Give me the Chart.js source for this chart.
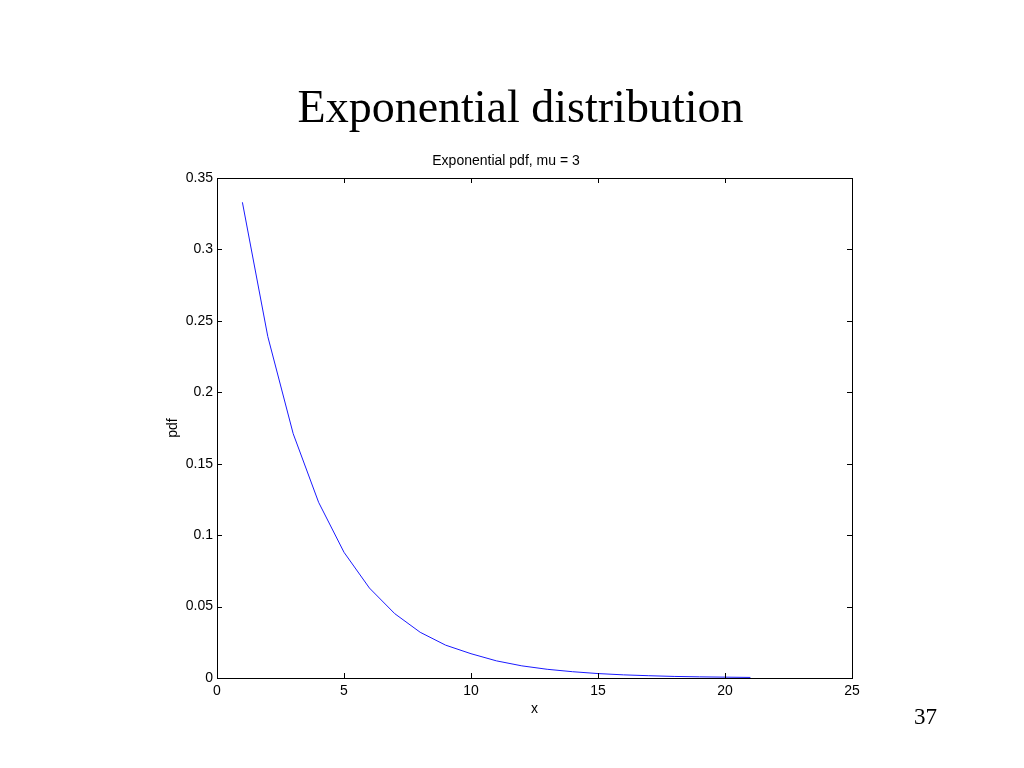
<!DOCTYPE html>
<html>
<head>
<meta charset="utf-8">
<script src="https://cdn.jsdelivr.net/npm/chart.js@4.4.1/dist/chart.umd.min.js"></script>
<style>
  html, body { margin: 0; padding: 0; background: #fff; }
  #slide { position: relative; width: 1024px; height: 768px; overflow: hidden; }
  #pdfChart { position: absolute; left: 0; top: 0; }
  .slideTitle {
    position: absolute; left: 0; width: 1041px; top: 84px;
    text-align: center; font-family: "Liberation Serif", "DejaVu Serif", serif;
    font-size: 46px; line-height: 1; color: #000;
  }
  .pageNum {
    position: absolute; left: 914px; top: 705px;
    font-family: "Liberation Serif", serif; font-size: 23px; line-height: 1; color: #000;
  }
</style>
</head>
<body>
<div id="slide">
  <canvas id="pdfChart" width="1024" height="768"></canvas>
  <div class="slideTitle">Exponential distribution</div>
  <div class="pageNum">37</div>
</div>
<script>
// valores
const xValues = [1, 2, 3, 4, 5, 6, 7, 8, 9, 10, 11, 12, 13, 14, 15, 16, 17, 18, 19, 20, 21];
const pdfValues = [0.333, 0.239, 0.171, 0.123, 0.088, 0.063, 0.045, 0.032, 0.023, 0.017,
  0.012, 0.0085, 0.0061, 0.0044, 0.0031, 0.0022, 0.0016, 0.0011, 0.0008, 0.0006, 0.0004];
const xTicks = [0, 5, 10, 15, 20, 25];
const yTicks = [0, 0.05, 0.1, 0.15, 0.2, 0.25, 0.3, 0.35];

const points = xValues.map((x, i) => ({ x: x, y: pdfValues[i] }));

// caja alrededor del área y marcas hacia dentro en los cuatro lados
const boxTicks = {
  id: 'boxTicks',
  afterDraw(chart) {
    const { ctx, chartArea: a, scales } = chart;
    const len = 5;
    ctx.save();
    ctx.strokeStyle = '#000';
    ctx.lineWidth = 1;
    ctx.strokeRect(a.left + 0.5, a.top + 0.5, a.right - a.left, a.bottom - a.top);
    ctx.beginPath();
    scales.x.ticks.forEach(t => {
      const px = Math.round(scales.x.getPixelForValue(t.value)) + 0.5;
      ctx.moveTo(px, a.bottom); ctx.lineTo(px, a.bottom - len);
      ctx.moveTo(px, a.top); ctx.lineTo(px, a.top + len);
    });
    scales.y.ticks.forEach(t => {
      const py = Math.round(scales.y.getPixelForValue(t.value)) + 0.5;
      ctx.moveTo(a.left, py); ctx.lineTo(a.left + len, py);
      ctx.moveTo(a.right, py); ctx.lineTo(a.right - len, py);
    });
    ctx.stroke();
    ctx.restore();
  }
};

const tickFont = { family: '"Liberation Sans", Arial, sans-serif', size: 14 };

new Chart(document.getElementById('pdfChart'), {
  type: 'line',
  data: {
    datasets: [{
      label: 'pdf',
      data: points,
      borderColor: '#1a1aff',
      borderWidth: 1,
      pointRadius: 0,
      tension: 0,
      fill: false
    }]
  },
  options: {
    responsive: false,
    animation: false,
    layout: { padding: { left: 160, right: 172, top: 150, bottom: 50 } },
    plugins: {
      legend: { display: false },
      tooltip: { enabled: false },
      title: {
        display: true,
        text: 'Exponential pdf, mu = 3',
        color: '#000',
        font: { family: '"Liberation Sans", Arial, sans-serif', size: 14, weight: 'normal' },
        padding: { top: 3, bottom: 8.2 }
      }
    },
    scales: {
      x: {
        type: 'linear',
        min: 0,
        max: 25,
        afterBuildTicks: s => { s.ticks = xTicks.map(v => ({ value: v })); },
        afterFit: s => { s.height = 40; },
        grid: { display: false, drawTicks: false },
        border: { display: false },
        ticks: { color: '#000', font: tickFont, padding: 5, maxRotation: 0 },
        title: { display: true, text: 'x', color: '#000', font: tickFont, padding: { top: 1, bottom: 0.6 } }
      },
      y: {
        min: 0,
        max: 0.35,
        afterBuildTicks: s => { s.ticks = yTicks.map(v => ({ value: v })); },
        afterFit: s => { s.width = 57; },
        grid: { display: false, drawTicks: false },
        border: { display: false },
        ticks: {
          color: '#000', font: tickFont, padding: 4,
          callback: v => String(Number(v.toFixed(2)))
        },
        title: { display: true, text: 'pdf', color: '#000', font: tickFont, padding: { top: 4.6, bottom: 1 } }
      }
    }
  },
  plugins: [boxTicks]
});
</script>
</body>
</html>
